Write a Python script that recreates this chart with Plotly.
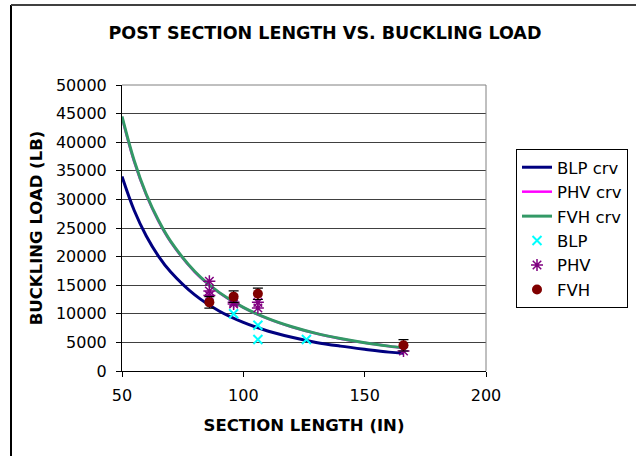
import plotly.graph_objects as go

# Fitted curve readings (section length in, buckling load lb)
crv_x = [50, 55, 60, 65, 70, 80, 90, 100, 110, 120, 130, 140, 150, 160, 166]
blp_crv = [34000, 28100, 23600, 20100, 17350, 13300, 10500, 8500, 7000, 5900, 5000, 4350, 3800, 3300, 3100]
phv_crv = [44300, 36600, 30750, 26200, 22600, 17300, 13700, 11070, 9150, 7690, 6550, 5650, 4920, 4330, 4020]
fvh_crv = [44500, 36800, 30900, 26350, 22700, 17400, 13750, 11130, 9200, 7730, 6580, 5680, 4950, 4350, 4040]

# Test data points
blp_x = [96, 106, 106, 126]
blp_y = [10000, 8000, 5500, 5500]
phv_x = [86, 86, 86, 96, 96, 106, 106, 166]
phv_y = [15700, 14000, 13200, 12000, 11700, 12000, 11000, 3500]
fvh_x = [86, 96, 106, 166]
fvh_y = [12000, 13000, 13500, 4500]
fvh_err = [1000, 1000, 1000, 1000]

x_ticks = [50, 100, 150, 200]
y_ticks = [0, 5000, 10000, 15000, 20000, 25000, 30000, 35000, 40000, 45000, 50000]
y_tick_text = ["0", "5000", "10000", "15000", "20000", "25000", "30000",
               "35000", "40000", "45000", "50000"]

FONT = "DejaVu Sans, Liberation Sans, Arial, sans-serif"

fig = go.Figure()
fig.add_trace(go.Scatter(x=crv_x, y=blp_crv, mode="lines", name="BLP crv",
                         line=dict(color="#000080", width=3, shape="spline")))
fig.add_trace(go.Scatter(x=crv_x, y=phv_crv, mode="lines", name="PHV crv",
                         line=dict(color="#FF00FF", width=2.5, shape="spline")))
fig.add_trace(go.Scatter(x=crv_x, y=fvh_crv, mode="lines", name="FVH crv",
                         line=dict(color="#339966", width=3, shape="spline")))
fig.add_trace(go.Scatter(x=blp_x, y=blp_y, mode="markers", name="BLP",
                         marker=dict(symbol="x-thin-open", size=9, color="#00FFFF",
                                     line=dict(color="#00FFFF", width=2))))
fig.add_trace(go.Scatter(x=phv_x, y=phv_y, mode="markers", name="PHV",
                         marker=dict(symbol="asterisk-open", size=10, color="#800080",
                                     line=dict(color="#800080", width=1.5))))
fig.add_trace(go.Scatter(x=fvh_x, y=fvh_y, mode="markers", name="FVH",
                         marker=dict(symbol="circle", size=10, color="#800000"),
                         error_y=dict(type="data", array=fvh_err, visible=True,
                                      color="black", thickness=1.2, width=5)))

L, R, T, B = 122, 150, 85, 85
W, H = 636, 456
pw, ph = W - L - R, H - T - B

def px_to_paper_x(px):
    return (px - L) / pw

def px_to_paper_y(py):
    return (H - B - py) / ph

fig.update_layout(
    width=W, height=H,
    margin=dict(l=L, r=R, t=T, b=B, autoexpand=False),
    paper_bgcolor="white", plot_bgcolor="white",
    font=dict(family=FONT, size=16, color="black"),
    title=dict(text="<b>POST SECTION LENGTH VS. BUCKLING LOAD</b>",
               x=325 / W, xanchor="center", y=1 - 33 / H, yanchor="middle",
               font=dict(size=17.5, family=FONT, color="black")),
    xaxis=dict(range=[50, 200], tickvals=x_ticks, ticks="outside", ticklen=5,
               tickcolor="black", showline=True, linecolor="black", linewidth=1,
               showgrid=False, zeroline=False, mirror=False, ticklabelstandoff=5,
               tickfont=dict(size=16, family=FONT),
               title=dict(text="<b>SECTION LENGTH (IN)</b>", standoff=15,
                          font=dict(size=16.5, family=FONT))),
    yaxis=dict(range=[0, 50000], tickvals=y_ticks, ticktext=y_tick_text,
               ticks="outside", ticklen=5, ticklabelstandoff=6,
               tickcolor="black", showline=True, linecolor="black", linewidth=1,
               showgrid=True, gridcolor="#404040", gridwidth=1, zeroline=False,
               tickfont=dict(size=16, family=FONT),
               title=dict(text="<b>BUCKLING LOAD (LB)</b>", standoff=9,
                          font=dict(size=16.5, family=FONT))),
    legend=dict(x=px_to_paper_x(516), y=px_to_paper_y(149), xanchor="left", yanchor="top",
                bordercolor="black", borderwidth=1, bgcolor="white",
                font=dict(size=16.5, family=FONT), tracegroupgap=0,
                itemwidth=30),
    showlegend=True,
)

# plot-area border (top and right), grey
fig.add_shape(type="line", xref="paper", yref="paper", x0=0, x1=1, y0=1, y1=1,
              line=dict(color="#808080", width=1))
fig.add_shape(type="line", xref="paper", yref="paper", x0=1, x1=1, y0=0, y1=1,
              line=dict(color="#808080", width=1))
# chart frame (left and top edges visible)
fig.add_shape(type="line", xref="paper", yref="paper",
              x0=px_to_paper_x(11), x1=px_to_paper_x(11),
              y0=px_to_paper_y(H), y1=px_to_paper_y(5),
              line=dict(color="black", width=2))
fig.add_shape(type="line", xref="paper", yref="paper",
              x0=px_to_paper_x(11), x1=px_to_paper_x(W),
              y0=px_to_paper_y(5), y1=px_to_paper_y(5),
              line=dict(color="#404040", width=2))

fig.write_html("out.html", config={"displayModeBar": False},
               post_script="document.body.style.margin='0';")
